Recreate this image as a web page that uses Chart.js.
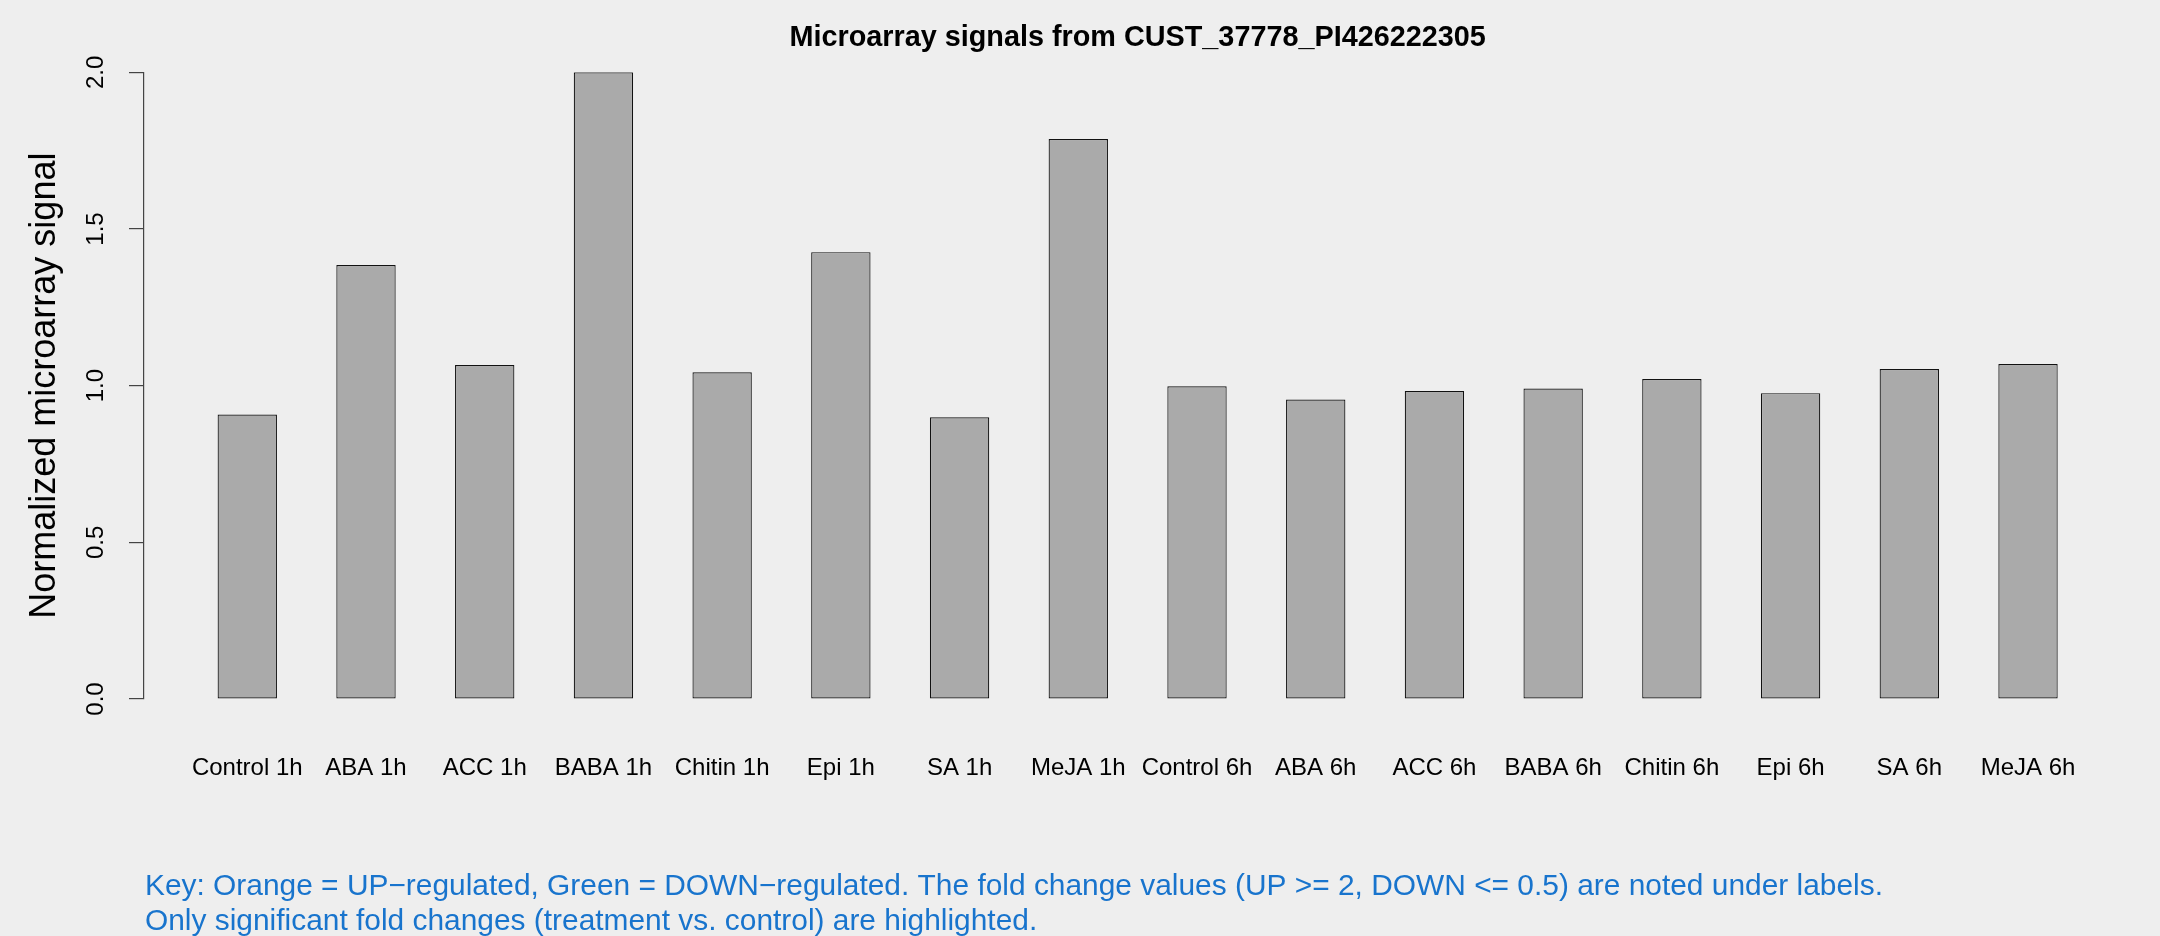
<!DOCTYPE html>
<html>
<head>
<meta charset="utf-8">
<script src="https://cdn.jsdelivr.net/npm/chart.js@4"></script>
<style>
  html, body { margin: 0; padding: 0; background: #eeeeee; }
  #wrap { width: 2160px; height: 936px; }
</style>
</head>
<body>
<div id="wrap"><canvas id="myChart" width="2160" height="936"></canvas></div>
<script>
const categories = ["Control 1h", "ABA 1h", "ACC 1h", "BABA 1h", "Chitin 1h", "Epi 1h", "SA 1h", "MeJA 1h",
  "Control 6h", "ABA 6h", "ACC 6h", "BABA 6h", "Chitin 6h", "Epi 6h", "SA 6h", "MeJA 6h"];
const signals = [0.908, 1.385, 1.066, 2.0, 1.043, 1.426, 0.899, 1.787,
  0.998, 0.956, 0.983, 0.991, 1.021, 0.976, 1.053, 1.069];
const yTicks = [0, 0.5, 1, 1.5, 2];
const titleText = "Microarray signals from CUST_37778_PI426222305";
const yTitle = "Normalized microarray signal";
const keyLines = [
  "Key: Orange = UP\u2212regulated, Green = DOWN\u2212regulated. The fold change values (UP >= 2, DOWN <= 0.5) are noted under labels.",
  "Only significant fold changes (treatment vs. control) are highlighted."
];

const FONT = "'Liberation Sans', Arial, Helvetica, sans-serif";

// titles and key text, placed like the R plot
const textPlugin = {
  id: "rtext",
  afterDraw(chart) {
    const c = chart.ctx, a = chart.chartArea;
    c.save();
    c.fillStyle = "#000";
    c.font = "bold 28.8px " + FONT;
    c.textAlign = "center";
    c.textBaseline = "alphabetic";
    c.fillText(titleText, (a.left + a.right) / 2, 46);

    c.font = "36px " + FONT;
    c.translate(55, (a.top + a.bottom) / 2);
    c.rotate(-Math.PI / 2);
    c.fillText(yTitle, 0, 0);
    c.restore();

    c.save();
    c.fillStyle = "#1874CD";
    c.font = "29.9px " + FONT;
    c.textAlign = "left";
    c.textBaseline = "alphabetic";
    keyLines.forEach((l, i) => c.fillText(l, 145, 895 + i * 35));
    c.restore();
  }
};

new Chart(document.getElementById("myChart"), {
  type: "bar",
  data: {
    datasets: [{
      data: signals.map((v, i) => ({ x: i, y: v })),
      backgroundColor: "#aaaaaa",
      borderColor: "#111111",
      borderWidth: 1.2,
      borderSkipped: false,
      categoryPercentage: 0.5,
      barPercentage: 1.0
    }]
  },
  options: {
    responsive: false,
    animation: false,
    layout: { padding: { top: 72.3, right: 28.7, left: 0, bottom: 0 } },
    plugins: { legend: { display: false }, tooltip: { enabled: false } },
    scales: {
      x: {
        type: "linear",
        offset: false,
        min: -0.87,
        max: 15.87,
        afterBuildTicks: s => { s.ticks = categories.map((c, i) => ({ value: i })); },
        afterFit: s => { s.height = 237; },
        grid: { display: false, offset: false },
        border: { display: false },
        ticks: {
          autoSkip: false,
          maxRotation: 0,
          padding: 47,
          color: "#000",
          font: { family: FONT, size: 24 },
          callback: v => categories[v]
        }
      },
      y: {
        min: 0,
        max: 2,
        afterBuildTicks: s => { s.ticks = yTicks.map(v => ({ value: v })); },
        afterFit: s => { s.width = 144; },
        grid: { drawOnChartArea: false, drawTicks: true, tickLength: 15, color: "#444", lineWidth: 1.2 },
        border: { display: true, color: "#444", width: 1.2 },
        ticks: {
          minRotation: 90,
          maxRotation: 90,
          crossAlign: "center",
          padding: 16,
          color: "#000",
          font: { family: FONT, size: 24 },
          callback: v => v.toFixed(1)
        }
      }
    }
  },
  plugins: [textPlugin]
});
</script>
</body>
</html>
